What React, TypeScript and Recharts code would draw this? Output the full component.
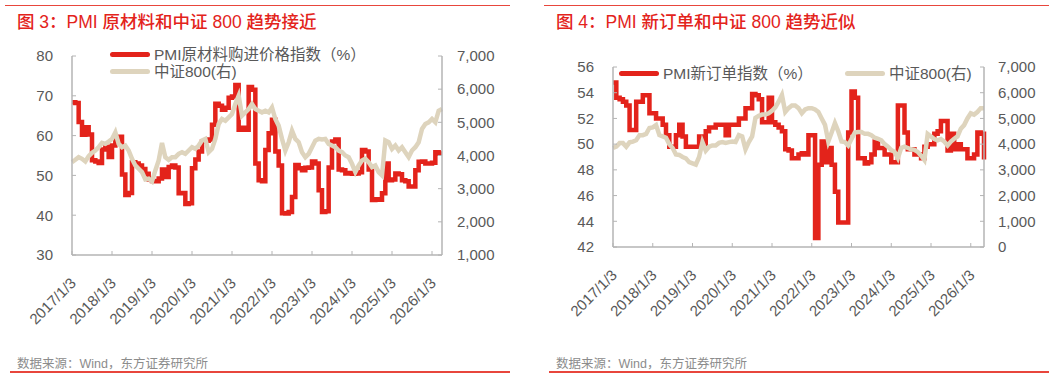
import { Line, LineChart, XAxis, YAxis } from "recharts";

// x = months since Jan 2017 (one point per month)
const tickMonths = [0, 12, 24, 36, 48, 60, 72, 84, 96, 108];
const tickLabels = [
  "2017/1/3", "2018/1/3", "2019/1/3", "2020/1/3", "2021/1/3",
  "2022/1/3", "2023/1/3", "2024/1/3", "2025/1/3", "2026/1/3",
];

// chart 3: PMI raw material purchase price index (%)
const pmiPrice = [
  68.4, 68.2, 63.4, 60.2, 62.1, 60.3, 53.8, 53.5, 53.1, 56.5,
  57.2, 54.6, 57.5, 59.5, 59.7, 50.2, 45.1, 45.6, 53.3, 53.0,
  52.5, 51.6, 50.4, 49.0, 48.6, 48.5, 49.2, 51.5, 49.6, 52.1,
  52.5, 52.0, 45.5, 45.6, 42.8, 43.0, 51.8, 54.0, 56.0, 58.5,
  58.7, 59.0, 62.7, 68.0, 67.5, 66.5, 67.0, 69.5, 69.8, 72.7,
  61.5, 62.0, 61.5, 72.2, 71.5, 53.0, 48.8, 48.5, 56.4, 60.6,
  64.0, 56.0, 52.5, 40.5, 40.4, 40.8, 44.6, 52.6, 51.8, 51.3,
  51.9, 52.0, 53.5, 53.0, 46.3, 40.8, 41.0, 52.0, 58.5, 59.0,
  51.5, 51.3, 50.5, 50.6, 50.4, 50.5, 50.8, 56.4, 56.0, 51.5,
  43.8, 44.0, 43.9, 45.5, 53.0, 48.8, 49.0, 50.5, 50.3, 48.8,
  48.5, 47.2, 47.2, 51.3, 53.4, 53.5, 53.0, 53.0, 53.2, 55.8,
  55.5, 55.5,
];
const csi800A = [
  3800, 3870, 3950, 3900, 3820, 3980, 4080, 4150, 4250, 4380,
  4350, 4420, 4500, 4700, 4350, 4250, 4300, 4150, 3900, 3700,
  3600, 3500, 3280, 3300, 3220, 3550, 3850, 4380, 3950, 3870,
  3950, 3950, 4050, 4100, 4050, 4150, 4250, 4200, 4300, 4450,
  4500, 4100, 4200, 4500, 4950, 5100, 5050, 5150, 5250, 5550,
  5800, 5200, 5300, 5400, 5550, 5400, 5350, 5300, 5350, 5300,
  5450, 5100, 4900, 4500, 4150, 4400, 4750, 4500, 4400, 4100,
  3950, 4050, 4250, 4450, 4500, 4480, 4500, 4350, 4300, 4250,
  4150, 4100, 4000, 3950, 3750, 3500, 3700, 3850, 3900, 3800,
  3650, 3700, 3500, 3400, 4450, 4400, 4200, 4300, 4150, 4250,
  4100, 3950, 4150, 4250, 4400, 4800, 4950, 5000, 5100, 5000,
  5350, 5400,
];

// chart 4: PMI new orders index (%)
const pmiOrders = [
  54.8, 53.6, 53.5, 53.3, 53.0, 51.1, 51.1, 53.3, 53.3, 53.8,
  53.8, 52.4, 52.4, 52.0, 52.0, 51.5, 50.7, 49.8, 49.8, 50.7,
  51.5, 50.6, 49.8, 49.8, 49.8, 49.8, 50.6, 49.8, 51.0, 51.3,
  51.3, 51.5, 51.5, 51.5, 50.7, 51.5, 51.5, 51.5, 52.0, 52.0,
  52.8, 52.8, 53.9, 53.8, 53.5, 51.7, 51.7, 53.6, 51.7, 51.5,
  51.3, 51.0, 49.6, 49.5, 48.9, 48.9, 49.2, 49.3, 49.2, 50.7,
  50.7, 42.7, 48.4, 50.2, 48.6, 49.7, 48.4, 46.3, 43.9, 43.9,
  43.9, 50.9, 54.1, 53.6, 48.9, 48.9, 48.5, 48.6, 49.2, 50.2,
  49.7, 49.7, 49.2, 49.2, 48.6, 48.6, 53.0, 53.0, 50.9, 49.6,
  49.6, 49.2, 49.2, 48.9, 49.8, 50.0, 50.0, 50.8, 51.0, 51.8,
  51.8, 49.5, 50.8, 49.6, 50.0, 49.6, 49.6, 48.9, 48.9, 49.2,
  50.9, 50.8, 48.8,
];
const csi800B = [
  3850, 3900, 4040, 4040, 3900, 4070, 4100, 4150, 4350, 4350,
  4400, 4630, 4650, 4740, 4350, 4300, 4250, 4000, 3850, 3600,
  3580, 3500, 3450, 3300, 3250, 3200, 3500, 4080, 3750, 3900,
  3950, 3950, 4050, 4080, 4050, 4080, 4100, 4080, 4350, 4300,
  3800, 4080, 4300, 5020, 5100, 5150, 5150, 5200, 5300, 5430,
  5650, 5910, 5250, 5400, 5500, 5500, 5400, 5200, 5350, 5400,
  5400, 5350, 5250, 5000, 4750, 4100, 4450, 4820, 4500, 4100,
  4080, 3950, 4200, 4450, 4470, 4470, 4400, 4400, 4350, 4250,
  4210, 4150, 4000, 3900, 3770, 3700, 3460, 3850, 3900, 3850,
  3800, 3780, 3700, 3550, 3380, 4400, 4300, 4200, 4150, 4200,
  4100, 3950, 4100, 4210, 4300, 4600, 4740, 5000, 5200, 5150,
  5250, 5400, 5400,
];

const leftTicksA = [30, 40, 50, 60, 70, 80];
const rightTicksA = [1000, 2000, 3000, 4000, 5000, 6000, 7000];
const leftTicksB = [42, 44, 46, 48, 50, 52, 54, 56];
const rightTicksB = [0, 1000, 2000, 3000, 4000, 5000, 6000, 7000];

const RED = "#e3231b";
const TAN = "#ded4bd";
const AXIS = "#b4b4b4";
const TEXT = "#595959";
const FONT = "'Liberation Sans', 'Noto Sans CJK SC', sans-serif";

const dataA = pmiPrice.map((v, i) => ({ m: i, pmi: v, csi: csi800A[i] }));
const dataB = pmiOrders.map((v, i) => ({ m: i, pmi: v, csi: csi800B[i] }));

const fmt = (v: number) => v.toLocaleString("en-US");

const DateTick = (props: any) => {
  const { x, y, payload } = props;
  const label = tickLabels[tickMonths.indexOf(payload.value)];
  const ax = x + 5;
  const ay = y + 33;
  return (
    <text
      x={ax}
      y={ay}
      transform={`rotate(-45 ${ax} ${ay})`}
      textAnchor="end"
      fontSize={15}
      fill={TEXT}
      fontFamily={FONT}
    >
      {label}
    </text>
  );
};

const tickStyle = { fontSize: 15, fill: TEXT, fontFamily: FONT };
const axisLine = { stroke: AXIS, strokeWidth: 1.5 };

const Swatch = ({ color }: { color: string }) => (
  <span
    style={{
      display: "inline-block",
      width: 40,
      height: 5,
      borderRadius: 3,
      background: color,
      marginRight: 4,
      verticalAlign: "middle",
    }}
  />
);

const legendText = { fontSize: 15.5, color: TEXT, verticalAlign: "middle" } as const;

const Panel = ({
  left,
  title,
  children,
}: {
  left: number;
  title: string;
  children: React.ReactNode;
}) => (
  <div style={{ position: "absolute", left, top: 0, width: 530, height: 378 }}>
    <div style={{ position: "absolute", left: 5, top: 5, width: 505, height: 1, background: "#e8463c" }} />
    <div
      style={{
        position: "absolute",
        left: 17,
        top: 8,
        fontSize: 17.5,
        fontWeight: 500,
        color: RED,
        whiteSpace: "nowrap",
      }}
    >
      {title}
    </div>
    {children}
    <div
      style={{
        position: "absolute",
        left: 17,
        top: 353,
        fontSize: 12.5,
        color: "#8c8c8c",
        whiteSpace: "nowrap",
      }}
    >
      数据来源：Wind，东方证券研究所
    </div>
    <div style={{ position: "absolute", left: 10, top: 371, width: 500, height: 1.5, background: "#e8463c" }} />
  </div>
);

export default function App() {
  return (
    <div
      style={{
        position: "absolute",
        left: 0,
        top: 0,
        width: 1061,
        height: 378,
        background: "#fff",
        fontFamily: FONT,
      }}
    >
      <Panel left={0} title="图 3：PMI 原材料和中证 800 趋势接近">
        <div style={{ position: "absolute", left: 0, top: 0 }}>
          <LineChart width={530} height={378} data={dataA} margin={{ top: 56, right: 18, bottom: 63, left: 12 }}>
            <XAxis
              dataKey="m"
              type="number"
              domain={[0, 111]}
              ticks={tickMonths}
              interval={0}
              height={60}
              axisLine={axisLine}
              tickLine={{ stroke: AXIS }}
              tickSize={-4}
              tickMargin={0}
              tick={<DateTick />}
            />
            <YAxis
              yAxisId="l"
              domain={[30, 80]}
              ticks={leftTicksA}
              width={60}
              axisLine={axisLine}
              tickLine={{ stroke: AXIS }}
              tickSize={-4}
              tickMargin={23}
              tick={tickStyle}
            />
            <YAxis
              yAxisId="r"
              orientation="right"
              domain={[1000, 7000]}
              ticks={rightTicksA}
              tickFormatter={fmt}
              width={70}
              axisLine={axisLine}
              tickLine={{ stroke: AXIS }}
              tickSize={-4}
              tickMargin={19}
              tick={tickStyle}
            />
            <Line yAxisId="l" type="stepAfter" dataKey="pmi" stroke={RED} strokeWidth={4.5} dot={false} isAnimationActive={false} />
            <Line yAxisId="r" type="linear" dataKey="csi" stroke={TAN} strokeWidth={4.5} dot={false} isAnimationActive={false} />
          </LineChart>
        </div>
        <div style={{ position: "absolute", left: 110, top: 45, whiteSpace: "nowrap", lineHeight: "18px" }}>
          <Swatch color={RED} />
          <span style={legendText}>PMI原材料购进价格指数（%）</span>
        </div>
        <div style={{ position: "absolute", left: 110, top: 62, whiteSpace: "nowrap", lineHeight: "18px" }}>
          <Swatch color={TAN} />
          <span style={legendText}>中证800(右)</span>
        </div>
      </Panel>

      <Panel left={539} title="图 4：PMI 新订单和中证 800 趋势近似">
        <div style={{ position: "absolute", left: -8, top: 0 }}>
          <LineChart width={531} height={378} data={dataB} margin={{ top: 67, right: 18, bottom: 71, left: 22 }}>
            <XAxis
              dataKey="m"
              type="number"
              domain={[0, 112]}
              ticks={tickMonths}
              interval={0}
              height={60}
              axisLine={axisLine}
              tickLine={{ stroke: AXIS }}
              tickSize={-4}
              tickMargin={0}
              tick={<DateTick />}
            />
            <YAxis
              yAxisId="l"
              domain={[42, 56]}
              ticks={leftTicksB}
              width={60}
              axisLine={axisLine}
              tickLine={{ stroke: AXIS }}
              tickSize={-4}
              tickMargin={23}
              tick={tickStyle}
            />
            <YAxis
              yAxisId="r"
              orientation="right"
              domain={[0, 7000]}
              ticks={rightTicksB}
              tickFormatter={fmt}
              width={60}
              axisLine={axisLine}
              tickLine={{ stroke: AXIS }}
              tickSize={-4}
              tickMargin={18}
              tick={tickStyle}
            />
            <Line yAxisId="l" type="stepAfter" dataKey="pmi" stroke={RED} strokeWidth={4.5} dot={false} isAnimationActive={false} />
            <Line yAxisId="r" type="linear" dataKey="csi" stroke={TAN} strokeWidth={4.5} dot={false} isAnimationActive={false} />
          </LineChart>
        </div>
        <div style={{ position: "absolute", left: 80, top: 64, whiteSpace: "nowrap", lineHeight: "18px" }}>
          <Swatch color={RED} />
          <span style={legendText}>PMI新订单指数（%）</span>
        </div>
        <div style={{ position: "absolute", left: 306, top: 64, whiteSpace: "nowrap", lineHeight: "18px" }}>
          <Swatch color={TAN} />
          <span style={legendText}>中证800(右)</span>
        </div>
      </Panel>
    </div>
  );
}
